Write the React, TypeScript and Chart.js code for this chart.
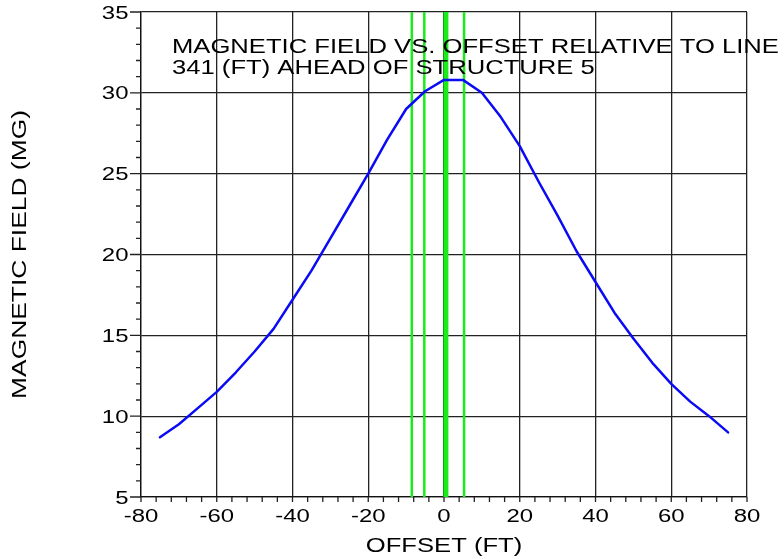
import React, { useEffect, useRef } from 'react';
import { Chart, registerables } from 'chart.js';

Chart.register(...registerables);

// ---- data ----
const offsets = [-75, -70, -65, -60, -55, -50, -45, -40, -35, -30, -25, -20, -15, -10, -5, 0, 5, 10, 15, 20, 25, 30, 35, 40, 45, 50, 55, 60, 65, 70, 75];
const field = [8.7, 9.5, 10.5, 11.5, 12.7, 14.0, 15.4, 17.2, 19.0, 21.0, 23.0, 25.0, 27.1, 29.0, 30.1, 30.8, 30.8, 30.0, 28.5, 26.7, 24.5, 22.4, 20.2, 18.3, 16.4, 14.8, 13.3, 12.0, 10.9, 10.0, 9.0];
const conductorOffsets = [-8.5, -5.2, 0.5, 5.3];
const conductorWidths = [2.5, 2.5, 5, 2.5];
const titleLines = ['MAGNETIC FIELD VS. OFFSET RELATIVE TO LINE', '341 (FT) AHEAD OF STRUCTURE 5'];
const xTitle = 'OFFSET (FT)';
const yTitle = 'MAGNETIC FIELD (MG)';
const xMin = -80, xMax = 80, xStep = 20, xMinorStep = 4;
const yMin = 5, yMax = 35, yStep = 5, yMinorStep = 1;

const FONT = "'Liberation Sans', Arial, sans-serif";
const TEXT = '#000';

function stretchedText(ctx: CanvasRenderingContext2D, text: string, x: number, y: number, size: number, sx: number, align: CanvasTextAlign, rot = 0) {
  ctx.save();
  ctx.translate(x, y);
  if (rot) ctx.rotate(rot);
  ctx.scale(sx, 1);
  ctx.font = `${size}px ${FONT}`;
  ctx.fillStyle = TEXT;
  ctx.textAlign = align;
  ctx.textBaseline = 'alphabetic';
  ctx.fillText(text, 0, 0);
  ctx.restore();
}

const decorPlugin = {
  id: 'decor',
  afterDraw(chart: any) {
    const ctx: CanvasRenderingContext2D = chart.ctx;
    const xs = chart.scales.x;
    const ys = chart.scales.y;
    const a = chart.chartArea;
    ctx.save();
    ctx.strokeStyle = '#222';
    ctx.lineWidth = 1.3;
    ctx.beginPath();
    for (let v = xMin; v <= xMax + 1e-9; v += xMinorStep) {
      const px = xs.getPixelForValue(v);
      ctx.moveTo(px, a.bottom);
      ctx.lineTo(px, a.bottom + 5);
    }
    for (let v = yMin; v <= yMax + 1e-9; v += yMinorStep) {
      const py = ys.getPixelForValue(v);
      const len = Math.abs(v % yStep) < 1e-9 ? 11 : 5;
      ctx.moveTo(a.left - len, py);
      ctx.lineTo(a.left, py);
    }
    ctx.stroke();
    ctx.restore();

    xs.ticks.forEach((t: any) => {
      const px = xs.getPixelForValue(t.value);
      stretchedText(ctx, String(t.value), px, a.bottom + 24.5, 18, 1.33, 'center');
    });
    ys.ticks.forEach((t: any) => {
      const py = ys.getPixelForValue(t.value);
      stretchedText(ctx, String(t.value), a.left - 12.5, py + 6.5, 18, 1.33, 'right');
    });

    stretchedText(ctx, titleLines[0], a.left + 31, 53, 21, 1.22, 'left');
    stretchedText(ctx, titleLines[1], a.left + 31, 73.5, 21, 1.22, 'left');
    stretchedText(ctx, xTitle, (a.left + a.right) / 2, 552, 21, 1.22, 'center');
    stretchedText(ctx, yTitle, 26, (a.top + a.bottom) / 2, 20, 1.32, 'center', -Math.PI / 2);
  },
};

export default function App() {
  const ref = useRef<HTMLCanvasElement>(null);
  useEffect(() => {
    if (!ref.current) return;
    const curve = offsets.map((o, i) => ({ x: o, y: field[i] }));
    const conductors = conductorOffsets.map((o, i) => ({
      data: [{ x: o, y: yMin }, { x: o, y: yMax }],
      borderColor: '#1aeb1a',
      borderWidth: conductorWidths[i],
      pointRadius: 0,
      tension: 0,
    }));
    const chart = new Chart(ref.current, {
      type: 'line',
      data: {
        datasets: [
          { data: curve, borderColor: '#0a0af5', borderWidth: 2.5, pointRadius: 0, tension: 0, borderJoinStyle: 'round', borderCapStyle: 'round' },
          ...conductors,
        ],
      },
      options: {
        animation: false,
        responsive: false,
        maintainAspectRatio: false,
        layout: { padding: { left: 0, top: 12, right: 37, bottom: 0 } },
        plugins: { legend: { display: false }, tooltip: { enabled: false }, title: { display: false } },
        scales: {
          x: {
            type: 'linear',
            min: xMin,
            max: xMax,
            ticks: { stepSize: xStep, display: false },
            grid: { color: '#222', lineWidth: 1.3, drawTicks: false },
            border: { display: true, color: '#111', width: 1.3 },
            afterFit: (s: any) => { s.height = 62; },
          },
          y: {
            type: 'linear',
            min: yMin,
            max: yMax,
            ticks: { stepSize: yStep, display: false },
            grid: { color: '#222', lineWidth: 1.3, drawTicks: false },
            border: { display: true, color: '#111', width: 1.3 },
            afterFit: (s: any) => { s.width = 141; },
          },
        },
      } as any,
      plugins: [decorPlugin],
    });
    return () => chart.destroy();
  }, []);
  return (
    <div style={{ position: 'fixed', left: 0, top: 0, width: 784, height: 559, background: '#fff' }}>
      <canvas ref={ref} width={784} height={559} style={{ width: 784, height: 559 }} />
    </div>
  );
}
